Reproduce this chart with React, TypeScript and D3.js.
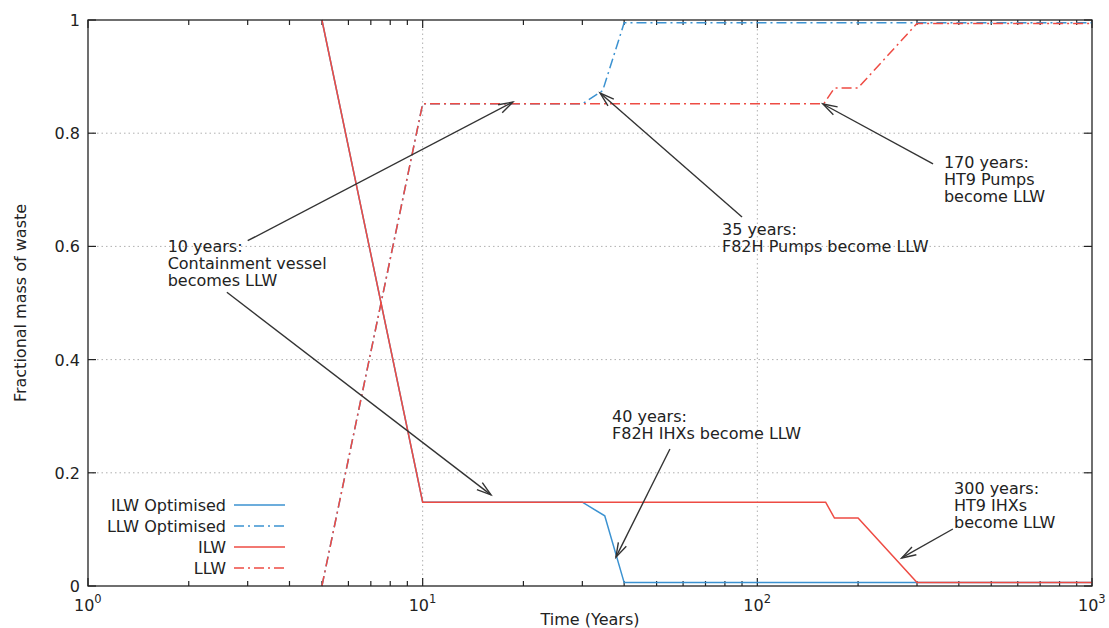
import React from 'react';
import * as d3 from 'd3';

// Data (time in years, fractional mass)
const ilwYears = [5, 10, 160, 170, 200, 300, 1000];
const ilwValues = [1, 0.148, 0.148, 0.12, 0.12, 0.006, 0.006];
const llwYears = [5, 10, 158, 170, 200, 300, 1000];
const llwValues = [0, 0.852, 0.852, 0.88, 0.88, 0.994, 0.994];
const ilwOptYears = [5, 10, 30, 35, 40, 1000];
const ilwOptValues = [1, 0.148, 0.148, 0.124, 0.006, 0.006];
const llwOptYears = [5, 10, 30, 34.5, 40, 1000];
const llwOptValues = [0, 0.852, 0.852, 0.875, 0.995, 0.995];

const yTicks = [0, 0.2, 0.4, 0.6, 0.8, 1];
const yTickLabels = ['0', '0.2', '0.4', '0.6', '0.8', '1'];
const xDecades = [1, 10, 100, 1000];
const xExponents = ['0', '1', '2', '3'];

const legendLabels = ['ILW Optimised', 'LLW Optimised', 'ILW', 'LLW'];

// annotations: text lines, text anchor (data coords), arrows [from, to] (data coords)
const notes = [
  { lines: ['10 years:', 'Containment vessel', 'becomes LLW'], at: [1.73, 0.59], arrows: [[[3.0, 0.61], [18.6, 0.855]], [[2.6, 0.519], [16.0, 0.161]]] },
  { lines: ['35 years:', 'F82H Pumps become LLW'], at: [78.4, 0.62], arrows: [[[90, 0.652], [33.9, 0.871]]] },
  { lines: ['170 years:', 'HT9 Pumps', 'become LLW'], at: [361, 0.7385], arrows: [[[335, 0.746], [157, 0.8516]]] },
  { lines: ['40 years:', 'F82H IHXs become LLW'], at: [36.8, 0.29], arrows: [[[54.8, 0.242], [37.8, 0.051]]] },
  { lines: ['300 years:', 'HT9 IHXs', 'become LLW'], at: [387, 0.1625], arrows: [[[384, 0.1007], [270, 0.0495]]] },
];

const W = 1109;
const H = 628;
const left = 88;
const right = 1092;
const top = 20;
const bottom = 586;

const BLUE = '#3b92d1';
const RED = '#ee4b43';
const DASHDOT = '10,4,2,4';
const FONT = 'DejaVu Sans, Verdana, sans-serif';
const FS = 16;

const x = d3.scaleLog().domain([1, 1000]).range([left, right]);
const y = d3.scaleLinear().domain([0, 1]).range([bottom, top]);

const line = d3.line<[number, number]>()
  .x(d => x(d[0]))
  .y(d => y(d[1]));

const zip = (a: number[], b: number[]) => a.map((t, i) => [t, b[i]] as [number, number]);

const series = [
  { data: zip(ilwOptYears, ilwOptValues), color: BLUE, dash: null },
  { data: zip(llwOptYears, llwOptValues), color: BLUE, dash: DASHDOT },
  { data: zip(ilwYears, ilwValues), color: RED, dash: null },
  { data: zip(llwYears, llwValues), color: RED, dash: DASHDOT },
];

const Arrow = ({ from, to }: { from: [number, number]; to: [number, number] }) => {
  const x1 = x(from[0]), y1 = y(from[1]);
  const x2 = x(to[0]), y2 = y(to[1]);
  const ang = Math.atan2(y1 - y2, x1 - x2);
  const len = 15;
  const spread = 0.3;
  const h1 = [x2 + len * Math.cos(ang + spread), y2 + len * Math.sin(ang + spread)];
  const h2 = [x2 + len * Math.cos(ang - spread), y2 + len * Math.sin(ang - spread)];
  return (
    <g stroke="#333" strokeWidth={1.4} fill="none">
      <line x1={x1} y1={y1} x2={x2} y2={y2} />
      <polyline points={`${h1[0]},${h1[1]} ${x2},${y2} ${h2[0]},${h2[1]}`} />
    </g>
  );
};

export default function App() {
  const minorTicks: number[] = [];
  xDecades.slice(0, 3).forEach(d => {
    for (let k = 2; k <= 9; k++) minorTicks.push(d * k);
  });

  return (
    <svg width={W} height={H} style={{ position: 'absolute', left: 0, top: 0, background: '#fff' }} fontFamily={FONT}>
      <rect width={W} height={H} fill="#fff" />

      {/* grid */}
      <g stroke="#b0b0b0" strokeWidth={1} strokeDasharray="1.5,3">
        {yTicks.slice(1, 5).map(v => (
          <line key={v} x1={left} x2={right} y1={y(v)} y2={y(v)} />
        ))}
        {[10, 100].map(v => (
          <line key={v} x1={x(v)} x2={x(v)} y1={top} y2={bottom} />
        ))}
      </g>

      {/* ticks */}
      <g stroke="#222" strokeWidth={1.2}>
        {yTicks.map(v => (
          <g key={v}>
            <line x1={left} x2={left + 8} y1={y(v)} y2={y(v)} />
            <line x1={right} x2={right - 8} y1={y(v)} y2={y(v)} />
          </g>
        ))}
        {xDecades.map(v => (
          <g key={v}>
            <line x1={x(v)} x2={x(v)} y1={bottom} y2={bottom - 8} />
            <line x1={x(v)} x2={x(v)} y1={top} y2={top + 8} />
          </g>
        ))}
        {minorTicks.map(v => (
          <g key={v}>
            <line x1={x(v)} x2={x(v)} y1={bottom} y2={bottom - 5} />
            <line x1={x(v)} x2={x(v)} y1={top} y2={top + 5} />
          </g>
        ))}
      </g>

      {/* series */}
      <g fill="none" strokeWidth={1.5}>
        {series.map((s, i) => (
          <path key={i} d={line(s.data) || ''} stroke={s.color} strokeDasharray={s.dash || undefined} />
        ))}
      </g>

      {/* border */}
      <rect x={left} y={top} width={right - left} height={bottom - top} fill="none" stroke="#222" strokeWidth={1.3} />

      {/* y tick labels */}
      <g fontSize={FS} fill="#222" textAnchor="end">
        {yTicks.map((v, i) => (
          <text key={v} x={left - 8} y={y(v) + 6}>{yTickLabels[i]}</text>
        ))}
      </g>

      {/* x tick labels */}
      <g fontSize={FS} fill="#222">
        {xDecades.map((v, i) => (
          <text key={v} x={x(v) - 14} y={611}>
            10<tspan dy={-8} fontSize={11.5}>{xExponents[i]}</tspan>
          </text>
        ))}
      </g>

      <text x={590} y={625} fontSize={FS} fill="#222" textAnchor="middle">Time (Years)</text>
      <text transform={`translate(26,${(top + bottom) / 2}) rotate(-90)`} fontSize={FS} fill="#222" textAnchor="middle">Fractional mass of waste</text>

      {/* legend */}
      <g fontSize={FS} fill="#222">
        {legendLabels.map((lab, i) => {
          const ly = 505 + i * 21;
          return (
            <g key={lab}>
              <text x={226} y={ly + 6} textAnchor="end">{lab}</text>
              <line x1={234} x2={285} y1={ly} y2={ly} stroke={series[i].color} strokeWidth={1.5} strokeDasharray={series[i].dash || undefined} />
            </g>
          );
        })}
      </g>

      {/* annotations */}
      {notes.map((n, i) => (
        <g key={i}>
          <text x={x(n.at[0])} y={y(n.at[1])} fontSize={FS} fill="#222">
            {n.lines.map((l, j) => (
              <tspan key={j} x={x(n.at[0])} dy={j === 0 ? 0 : 17}>{l}</tspan>
            ))}
          </text>
          {n.arrows.map((a, j) => (
            <Arrow key={j} from={a[0] as [number, number]} to={a[1] as [number, number]} />
          ))}
        </g>
      ))}
    </svg>
  );
}
